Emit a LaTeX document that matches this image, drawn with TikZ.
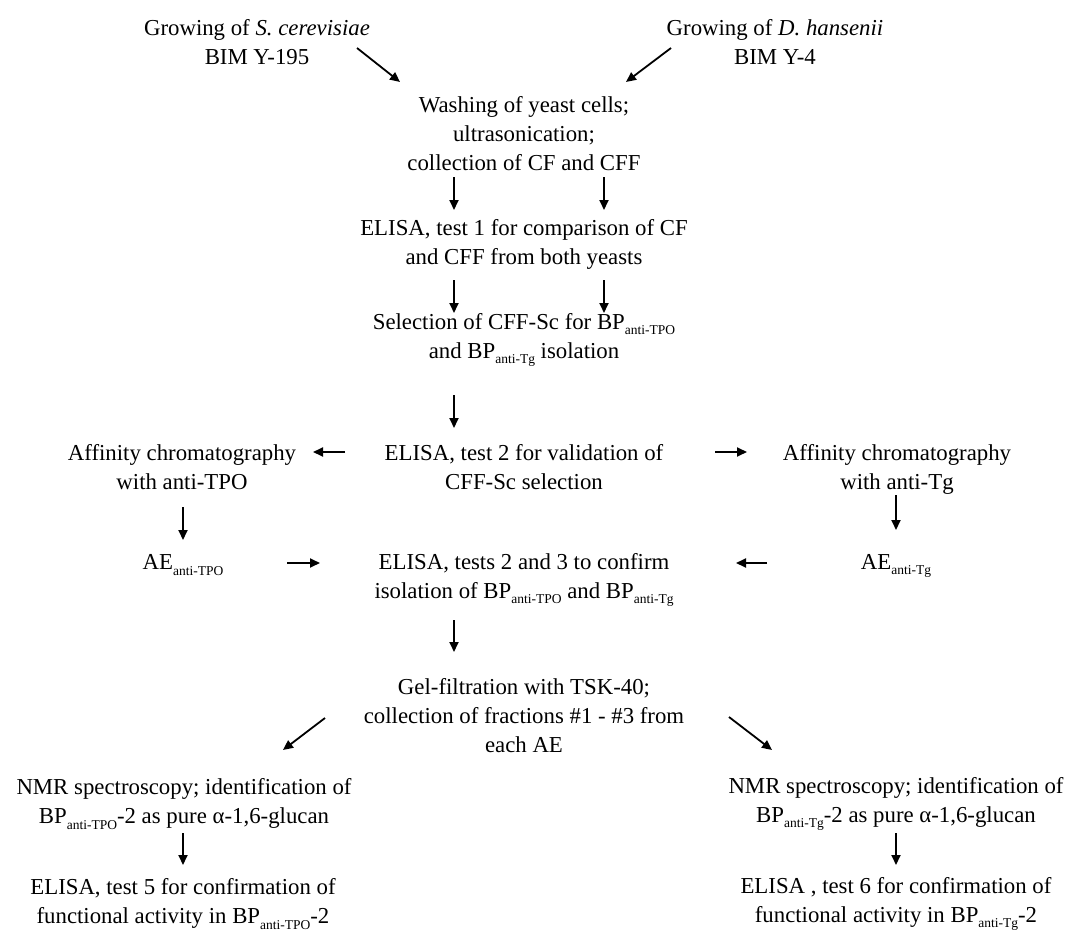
\documentclass[tikz,border=0pt]{standalone}
\usepackage{fontspec}
\setmainfont{Liberation Serif}
\usetikzlibrary{arrows.meta}
\newcommand{\lo}[1]{\raisebox{-5.5pt}{\fontsize{13.5}{13.5}\selectfont #1}}
\begin{document}
\begin{tikzpicture}[x=1pt,y=-1pt,
  box/.style={align=center,inner sep=0pt,font=\fontsize{22.8}{29}\selectfont},
  arr/.style={line width=1.8pt,-{Triangle[length=10pt,width=9pt]}}]
\useasboundingbox (0,0) rectangle (1088,934);
\node[box] (n1) at (257,42) {Growing of \textit{S. cerevisiae}\\BIM Y-195};
\node[box] (n2) at (775,42) {Growing of \textit{D. hansenii}\\BIM Y-4};
\node[box] (n3) at (524,134) {Washing of yeast cells;\\ultrasonication;\\collection of CF and CFF};
\node[box] (n4) at (524,244) {ELISA, test 1 for comparison of CF\\and CFF from both yeasts};
\node[box] (n5) at (524,340) {Selection of CFF-Sc for BP\lo{anti-TPO}\\and BP\lo{anti-Tg} isolation};
\node[box] (n6) at (524,467) {ELISA, test 2 for validation of\\CFF-Sc selection};
\node[box] (aL) at (182,467) {Affinity chromatography\\with anti-TPO};
\node[box] (aR) at (897,469) {Affinity chromatography\\with anti-Tg};
\node[box] (aeL) at (183,565) {AE\lo{anti-TPO}};
\node[box] (aeR) at (896,566) {AE\lo{anti-Tg}};
\node[box] (n7) at (524,580) {ELISA, tests 2 and 3 to confirm\\isolation of BP\lo{anti-TPO} and BP\lo{anti-Tg}};
\node[box] (n8) at (524,716) {Gel-filtration with TSK-40;\\collection of fractions \#1 - \#3 from\\each AE};
\node[box] (n9L) at (184,804) {NMR spectroscopy; identification of\\BP\lo{anti-TPO}-2 as pure α-1,6-glucan};
\node[box] (n9R) at (896,804) {NMR spectroscopy; identification of\\BP\lo{anti-Tg}-2 as pure α-1,6-glucan};
\node[box] (n10L) at (183,904) {ELISA, test 5 for confirmation of\\functional activity in BP\lo{anti-TPO}-2};
\node[box] (n10R) at (896,904) {ELISA , test 6 for confirmation of\\functional activity in BP\lo{anti-Tg}-2};
\draw[arr] ([shift={(100,6)}]n1.center) -- ([shift={(-124,-52)}]n3.center);
\draw[arr] ([shift={(-104,6)}]n2.center) -- ([shift={(102,-52)}]n3.center);
\draw[arr] ([shift={(-70,43)}]n3.center) -- ([shift={(-70,-34)}]n4.center);
\draw[arr] ([shift={(80,43)}]n3.center) -- ([shift={(80,-34)}]n4.center);
\draw[arr] ([shift={(-70,36)}]n4.center) -- ([shift={(-70,-27)}]n5.center);
\draw[arr] ([shift={(80,36)}]n4.center) -- ([shift={(80,-27)}]n5.center);
\draw[arr] ([shift={(-70,55)}]n5.center) -- ([shift={(-70,-39)}]n6.center);
\draw[arr] ([shift={(-179,-15)}]n6.center) -- ([shift={(131,-15)}]aL.center);
\draw[arr] ([shift={(191,-15)}]n6.center) -- ([shift={(-150,-17)}]aR.center);
\draw[arr] ([shift={(1,40)}]aL.center) -- ([shift={(0,-25)}]aeL.center);
\draw[arr] ([shift={(-1,26)}]aR.center) -- ([shift={(0,-36)}]aeR.center);
\draw[arr] ([shift={(104,-2)}]aeL.center) -- ([shift={(-204,-17)}]n7.center);
\draw[arr] ([shift={(-129,-3)}]aeR.center) -- ([shift={(212,-17)}]n7.center);
\draw[arr] ([shift={(-70,40)}]n7.center) -- ([shift={(-70,-64)}]n8.center);
\draw[arr] ([shift={(-199,2)}]n8.center) -- ([shift={(99,-54)}]n9L.center);
\draw[arr] ([shift={(205,1)}]n8.center) -- ([shift={(-124,-54)}]n9R.center);
\draw[arr] ([shift={(-1,29)}]n9L.center) -- ([shift={(0,-39)}]n10L.center);
\draw[arr] ([shift={(0,29)}]n9R.center) -- ([shift={(0,-39)}]n10R.center);
\end{tikzpicture}
\end{document}
